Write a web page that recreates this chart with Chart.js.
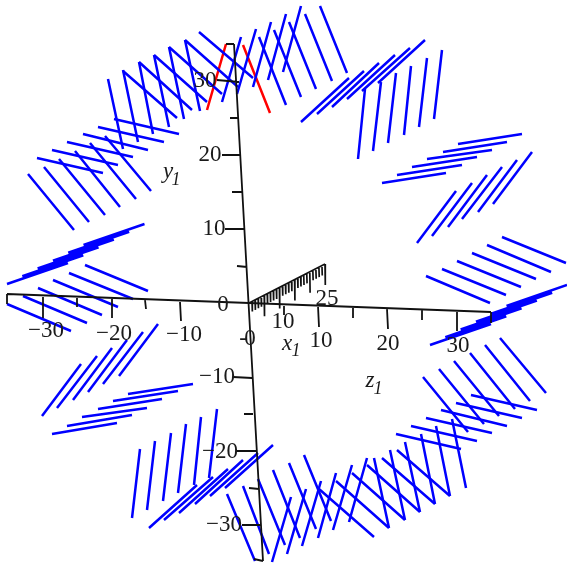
<!DOCTYPE html>
<html>
<head>
<meta charset="utf-8">
<style>
  html, body { margin: 0; padding: 0; background: #fff; }
  canvas { display: block; filter: blur(0.35px); }
</style>
<script src="https://cdn.jsdelivr.net/npm/chart.js@4/dist/chart.umd.min.js"></script>
</head>
<body>
<canvas id="grafico" width="567" height="564"></canvas>
<script>
// Values, in its projected plane: [x1, y1, x2, y2]
const groupA = [[108,79,123,149],[123,70,138,142],[139,62,153,134],[154,55,169,127],[169,47,184,119],[185,40,200,111]];
const groupB = [[123,71,177,118],[139,62,192,110],[154,55,207,102],[169,47,222,94],[185,40,238,87],[199,32,253,78]];
const groupC = [[222,102,241,37],[237,94,256,29],[253,87,271,22],[268,80,286,14],[283,72,301,6]];
const groupD = [[259,37,286,105],[274,30,301,97],[289,22,316,89],[305,14,332,81],[320,6,347,73]];
const groupE = [[37,158,103,173],[52,150,118,165],[67,142,133,157],[83,134,148,150],[98,127,164,142],[114,119,179,134]];
const groupF = [[28,174,74,230],[44,167,89,222],[59,159,105,215],[75,151,120,207],[90,143,136,199],[105,136,151,191]];
const groupG = [[7,284,68,263],[22.3,276.2,83.3,255.2],[37.6,268.4,98.6,247.4],[52.9,260.6,113.9,239.6],[68.2,252.8,129.2,231.8],[83.5,245,144.5,224]];
const groupH = [[7,304,71,331],[23,296,87,323],[38,288,102,315],[53,280,118,307],[69,273,133,299],[85,265,148,291]];
const groupI = [[42,416,81,364],[57,408,97,356],[73,400,112,348],[88,392,127,340],[103,384,143,332],[119,376,158,324]];
const groupJ = [[52,434,117,423],[67,426,132,415],[82,417,147,408],[98,409,162,399],[113,401,178,391],[128,394,193,384]];
const groupK = [[132,518,140,449],[147,510,155,441],[163,501,171,433],[178,493,186,424],[194,485,201,417],[209,478,217,409]];
const groupL = [[149,528,197,485],[164,520,213,477],[179,513,228,469],[195,504,243,460],[210,496,258,453],[225,488,273,445]];
const groupM = [[227,494,255,561],[243,486,269,554],[258,479,285,545],[273,470,300,538],[289,463,316,529],[304,455,331,521]];
const groupN = [[272,562,291,497],[287,554,306,489],[302,546,321,481],[318,538,336,473],[333,530,352,465],[349,522,367,458]];
const groupO = [[319,489,374,537],[336,481,389,528],[352,473,405,520],[367,465,420,512],[382,458,435,504],[397,450,450,496]];
const groupP = [[374,458,389,528],[390,450,405,520],[405,442,420,512],[421,434,435,504],[436,426,450,496],[452,419,466,488]];
const groupQ = [[396,434,461,449],[411,426,477,441],[426,418,492,433],[441,410,507,426],[456,403,522,418],[471,395,537,410]];
const groupR = [[423,377,468,432],[439,369,484,424],[454,361,499,416],[470,353,515,409],[485,345,530,401],[500,338,546,393]];
const groupS = [[430,345,491,324],[445.3,337.2,506.3,316.2],[460.6,329.4,521.6,308.4],[475.9,321.6,536.9,300.6],[491.2,313.8,552.2,292.8],[506.5,306,567,285]];
const groupT = [[426,276,490,303],[442,269,506,295],[457,261,521,287],[472,253,536,279],[487,245,551,272],[502,237,566,263]];
const groupU = [[417,243,456,191],[432,236,472,183],[448,227,487,175],[462,219,502,167],[478,212,517,160],[493,204,532,152]];
const groupV = [[382,183,446,173],[397,175,462,165],[412,167,477,157],[427,159,492,150],[443,152,507,142],[458,144,522,134]];
const groupW = [[358,159,365,89],[373,151,381,82],[388,143,396,73],[404,135,411,66],[419,127,427,58],[434,119,442,50]];
const groupX = [[301,122,349,78],[317,114,364,71],[332,107,379,63],[347,99,395,55],[362,91,410,48],[378,83,425,40]];
const blueGroups = [groupA, groupB, groupC, groupD, groupE, groupF, groupG, groupH, groupI, groupJ, groupK, groupL,
  groupM, groupN, groupO, groupP, groupQ, groupR, groupS, groupT, groupU, groupV, groupW, groupX];
const redLines = [[207,110,226,44],[243,45,270,113]];

// Eixos
const yAxis = [[226,44,234,44],[234,44,263,561],[254,559,263,561]];
const yTicks = [[239,82,217,80],[241,155,222,155],[245,229,225,229],[252,378,233,377],[257,451,237,451],[261,525,242,525],
  [239,118,230,118],[242,192,232,192],[247,267,237,266],[253,414,244,414],[259,489,249,488]];
const zAxis = [[7,304,7,294],[7,294,491,312],[491,312,491,323]];
const zTicks = [[43,297,43,318],[112,299,112,318],[180,302,181,321],[318,306,319,327],[387,309,388,329],[457,311,457,331],
  [77,298,77,307],[145,300,146,309],[284,304,284,315],[353,308,353,318],[422,310,422,320]];
const xAxis = [[249,303,325,264]];
const xTickValues = [1,2,3,4,5,6,7,8,9,10,11,12,13,14,15,16,17,18,19,20,21,22,23,24,25];

const yTickLabels = ['30','20','10','0','\u221210','\u221220','\u221230'];
const yTickLabelX = [205,210,214,223,217,220,224];
const yTickLabelY = [81,155,229,305,377,452,525];
const zTickLabels = ['\u221230','\u221220','\u221210','-','0','10','20','30'];
const zTickLabelX = [46,114,184,243,250,321,388,458];
const zTickLabelY = [331,334,335,339,339,341,344,346];
const xTickLabels = ['10','25'];
const xTickLabelX = [283,327];
const xTickLabelY = [322,299];
const axisNames = ['y','x','z'];
const axisNameX = [168,287,370];
const axisNameY = [172,344,381];
const axisSubX = [176,296,378];
const axisSubY = [180,351,389];

const azul = '#0000ff';
const vermelho = '#ff0000';
const preto = '#111';

// posicao de um valor do eixo x1 no plano da figura
function xTickSegment(v) {
  const px = 249 + v * 76 / 25;
  const py = 303 - v * 39 / 25;
  const len = v % 5 === 0 ? 21 : 10;
  return [px, py, px + 0.3, py + len];
}

function toPoints(segments) {
  const pts = [];
  segments.forEach(s => {
    pts.push({ x: s[0], y: s[1] }, { x: s[2], y: s[3] }, { x: NaN, y: NaN });
  });
  return pts;
}

function lineSet(segments, color, width) {
  return {
    data: toPoints(segments),
    showLine: true,
    spanGaps: false,
    borderColor: color,
    borderWidth: width,
    pointRadius: 0,
    borderCapStyle: 'butt',
    tension: 0
  };
}

const labelPlugin = {
  id: 'rotulos',
  afterDatasetsDraw(chart) {
    const ctx = chart.ctx;
    const sx = chart.scales.x, sy = chart.scales.y;
    ctx.save();
    ctx.fillStyle = '#1a1a1a';
    ctx.textAlign = 'center';
    ctx.textBaseline = 'middle';
    ctx.font = '23px "Liberation Serif"';
    const put = (labels, xs, ys) => labels.forEach((t, i) => {
      ctx.fillText(t, sx.getPixelForValue(xs[i]), sy.getPixelForValue(ys[i]));
    });
    put(yTickLabels, yTickLabelX, yTickLabelY);
    put(zTickLabels, zTickLabelX, zTickLabelY);
    put(xTickLabels, xTickLabelX, xTickLabelY);
    ctx.font = 'italic 23px "Liberation Serif"';
    put(axisNames, axisNameX, axisNameY);
    ctx.font = 'italic 18px "Liberation Serif"';
    put(axisNames.map(() => '1'), axisSubX, axisSubY);
    ctx.restore();
  }
};

const datasets = [
  lineSet(yAxis.concat(yTicks), preto, 1.8),
  lineSet(zAxis.concat(zTicks), preto, 1.8),
  lineSet(xAxis.concat(xTickValues.map(xTickSegment)), preto, 1.7)
];
blueGroups.forEach(g => datasets.push(lineSet(g, azul, 2.5)));
datasets.push(lineSet(redLines, vermelho, 2.5));

new Chart(document.getElementById('grafico'), {
  type: 'scatter',
  data: { datasets: datasets },
  options: {
    responsive: false,
    animation: false,
    layout: { padding: 0 },
    plugins: { legend: { display: false }, title: { display: false }, tooltip: { enabled: false } },
    scales: {
      x: { type: 'linear', display: false, min: 0, max: 567 },
      y: { type: 'linear', display: false, min: 0, max: 564, reverse: true }
    }
  },
  plugins: [labelPlugin]
});
</script>
</body>
</html>
